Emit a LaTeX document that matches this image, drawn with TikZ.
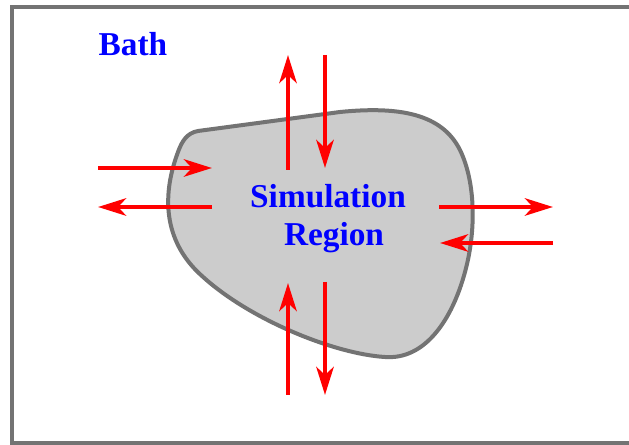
\documentclass[tikz,border=0pt]{standalone}
\usepackage{fontspec}
\setmainfont{Liberation Serif}
\usetikzlibrary{arrows.meta}
\definecolor{framegray}{HTML}{737373}
\definecolor{blobfill}{HTML}{CCCCCC}
\tikzset{
  flux/.style={draw=red, line width=3.5pt, -{Stealth[length=21pt,width=13pt,inset=6pt]}},
  lbl/.style={text=blue, font=\fontsize{25}{28.5}\selectfont\bfseries, align=center, inner sep=0pt}
}
\begin{document}
\begin{tikzpicture}[x=0.75pt,y=-0.75pt]
\useasboundingbox (0,0) rectangle (629,445);
% frame
\draw[framegray, line width=3pt] (12,7) rectangle (640,443);
% region
\draw[framegray, line width=3pt, fill=blobfill]
  (198,131) -- (340,112)
  .. controls (400,106) and (442,114) .. (460,150)
  .. controls (476,183) and (476,232) .. (465,272)
  .. controls (452,320) and (425,360) .. (385,357)
  .. controls (335,354) and (250,320) .. (202,276)
  .. controls (166,244) and (160,200) .. (178,152)
  .. controls (182,141) and (187,133) .. (198,131) -- cycle;
% labels
\node[lbl] (bath) at (133,44) {Bath};
\node[lbl] (sim) at (328,219) {Simulation\\\hspace{9pt}Region};
% arrow end points
\coordinate (t1a) at (288,170); \coordinate (t1b) at (288,55);
\coordinate (t2a) at (325,55);  \coordinate (t2b) at (325,168);
\coordinate (l1a) at (98,168);  \coordinate (l1b) at (212,168);
\coordinate (l2a) at (212,207); \coordinate (l2b) at (98,207);
\coordinate (r1a) at (439,207); \coordinate (r1b) at (553,207);
\coordinate (r2a) at (553,243); \coordinate (r2b) at (440,243);
\coordinate (b1a) at (288,395); \coordinate (b1b) at (288,283);
\coordinate (b2a) at (325,282); \coordinate (b2b) at (325,395);
\draw[flux] (t1a) -- (t1b);
\draw[flux] (t2a) -- (t2b);
\draw[flux] (l1a) -- (l1b);
\draw[flux] (l2a) -- (l2b);
\draw[flux] (r1a) -- (r1b);
\draw[flux] (r2a) -- (r2b);
\draw[flux] (b1a) -- (b1b);
\draw[flux] (b2a) -- (b2b);
\end{tikzpicture}
\end{document}
